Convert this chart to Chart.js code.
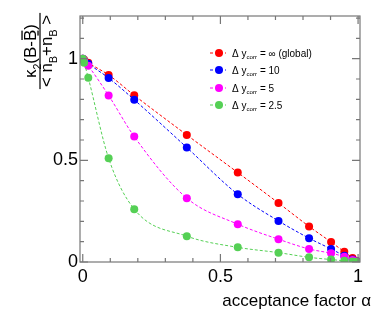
<!DOCTYPE html>
<html>
<head>
<meta charset="utf-8">
<script src="https://cdn.jsdelivr.net/npm/chart.js@4/dist/chart.umd.min.js"></script>
<style>
  body { margin: 0; background: #fff; }
  canvas { display: block; }
</style>
</head>
<body>
<canvas id="chart" width="374" height="317"></canvas>
<script>
// acceptance factor values (same for every curve)
const alpha = [0, 0.005, 0.02, 0.094, 0.187, 0.378, 0.563, 0.711, 0.822, 0.902, 0.95, 0.98, 0.995];

// normalised second cumulant for each rapidity correlation length
const globalVals = [1.0, 0.995, 0.98, 0.92, 0.82, 0.625, 0.44, 0.29, 0.175, 0.098, 0.05, 0.02, 0.005];
const corr10 = [1.0, 0.99, 0.975, 0.905, 0.798, 0.563, 0.333, 0.202, 0.117, 0.064, 0.031, 0.012, 0.003];
const corr5 = [1.0, 0.99, 0.965, 0.819, 0.617, 0.314, 0.186, 0.112, 0.064, 0.043, 0.026, 0.01, 0.003];
const corr25 = [1.0, 0.98, 0.906, 0.51, 0.26, 0.127, 0.072, 0.046, 0.023, 0.012, 0.006, 0.003, 0.001];

const legendValues = ['\u221e (global)', '10', '5', '2.5'];
const colors = ['#ff0000', '#0000ff', '#ff00ff', '#55d055'];

const xTicks = [0, 0.1, 0.2, 0.3, 0.4, 0.5, 0.6, 0.7, 0.8, 0.9, 1];
const yTicks = [0, 0.1, 0.2, 0.3, 0.4, 0.5, 0.6, 0.7, 0.8, 0.9, 1, 1.1, 1.2];
const majorTicks = [0, 0.5, 1];

const FONT = '"Liberation Sans", Arial, sans-serif';
const FRAME = '#777';

const series = [globalVals, corr10, corr5, corr25];

const makeDataset = (vals, i) => ({
    label: legendValues[i],
    data: alpha.map((a, k) => ({ x: a, y: vals[k] })),
    borderColor: colors[i],
    backgroundColor: colors[i],
    borderWidth: 1,
    borderDash: [3, 2],
    tension: 0.4,
    cubicInterpolationMode: 'monotone',
    pointRadius: 4,
    pointBorderWidth: 0,
    pointBackgroundColor: colors[i],
    order: 4 - i
});

const isMajor = v => majorTicks.some(m => Math.abs(m - v) < 1e-6);

// inward ticks on all four sides + frame
const framePlugin = {
    id: 'frame',
    afterDraw(chart) {
        const ctx = chart.ctx;
        const a = chart.chartArea;
        const xs = chart.scales.x, ys = chart.scales.y;
        ctx.save();
        ctx.strokeStyle = FRAME;
        ctx.lineWidth = 1.2;
        ctx.strokeRect(a.left, a.top, a.right - a.left, a.bottom - a.top);
        ctx.beginPath();
        xs.ticks.forEach(t => {
            const px = xs.getPixelForValue(t.value);
            const len = isMajor(t.value) ? 8 : 4;
            ctx.moveTo(px, a.bottom); ctx.lineTo(px, a.bottom - len);
            ctx.moveTo(px, a.top); ctx.lineTo(px, a.top + len);
        });
        ys.ticks.forEach(t => {
            const py = ys.getPixelForValue(t.value);
            const len = isMajor(t.value) ? 8 : 4;
            ctx.moveTo(a.left, py); ctx.lineTo(a.left + len, py);
            ctx.moveTo(a.right, py); ctx.lineTo(a.right - len, py);
        });
        ctx.stroke();
        ctx.restore();
    }
};

// draws a run of text pieces; pieces can be subscripts or overlined
const drawPieces = (ctx, pieces, x, y, size) => {
    let cx = x;
    pieces.forEach(p => {
        const s = p.sub ? size * 0.62 : size;
        ctx.font = s + 'px ' + FONT;
        const dy = p.sub ? size * 0.28 : 0;
        ctx.fillText(p.t, cx, y + dy);
        const w = ctx.measureText(p.t).width;
        if (p.over) {
            ctx.fillRect(cx + 1, y - size * 0.86, w - 2, 1.3);
        }
        cx += w;
    });
    return cx - x;
};

const measurePieces = (ctx, pieces, size) => {
    let w = 0;
    pieces.forEach(p => {
        ctx.font = (p.sub ? size * 0.62 : size) + 'px ' + FONT;
        w += ctx.measureText(p.t).width;
    });
    return w;
};

const labelsPlugin = {
    id: 'labels',
    afterDraw(chart) {
        const ctx = chart.ctx;
        ctx.save();
        ctx.fillStyle = '#000';
        ctx.textBaseline = 'alphabetic';

        // x axis title
        ctx.font = '17px ' + FONT;
        ctx.textAlign = 'right';
        ctx.fillText('acceptance factor \u03b1', 371, 306);
        ctx.textAlign = 'left';

        // y axis title as fraction, rotated
        const size = 17;
        const num = [{ t: '\u03ba' }, { t: '2', sub: true }, { t: '(B-' }, { t: 'B', over: true }, { t: ')' }];
        const den = [{ t: '< n' }, { t: 'B', sub: true }, { t: '+n' }, { t: 'B', sub: true, over: true }, { t: ' >' }];
        ctx.translate(40, 51);
        ctx.rotate(-Math.PI / 2);
        const wn = measurePieces(ctx, num, size);
        const wd = measurePieces(ctx, den, size);
        drawPieces(ctx, num, -wn / 2, -4, size);
        drawPieces(ctx, den, -wd / 2, 12, size);
        const bar = Math.max(wn, wd) + 4;
        ctx.fillRect(-bar / 2, -0.6, bar, 1.2);
        ctx.setTransform(1, 0, 0, 1, 0, 0);

        // legend
        const rows = [53, 70, 88, 105];
        rows.forEach((ry, i) => {
            ctx.strokeStyle = colors[i];
            ctx.fillStyle = colors[i];
            ctx.lineWidth = 1;
            ctx.setLineDash([3, 2]);
            ctx.beginPath();
            ctx.moveTo(210, ry); ctx.lineTo(226, ry);
            ctx.stroke();
            ctx.setLineDash([]);
            ctx.beginPath();
            ctx.arc(219, ry, 4, 0, Math.PI * 2);
            ctx.fill();
            ctx.fillStyle = '#000';
            drawPieces(ctx, [{ t: '\u0394 y' }, { t: 'corr', sub: true }, { t: ' = ' + legendValues[i] }], 232, ry + 3.5, 10);
        });
        ctx.restore();
    }
};

const ctx = document.getElementById('chart').getContext('2d');
new Chart(ctx, {
    type: 'line',
    data: { datasets: series.map(makeDataset) },
    options: {
        responsive: false,
        devicePixelRatio: 1,
        animation: false,
        layout: { padding: { top: 16, right: 14, left: 0, bottom: 0 } },
        plugins: { legend: { display: false }, tooltip: { enabled: false } },
        scales: {
            x: {
                type: 'linear',
                min: -0.01,
                max: 1.007,
                afterBuildTicks: s => { s.ticks = xTicks.map(v => ({ value: v })); },
                afterFit: s => { s.height = 55; },
                grid: { display: false, drawTicks: false },
                border: { display: false },
                ticks: {
                    autoSkip: false,
                    maxRotation: 0,
                    padding: 4,
                    color: '#000',
                    font: { family: FONT, size: 18 },
                    callback: v => isMajor(v) ? String(v) : ''
                }
            },
            y: {
                type: 'linear',
                min: 0,
                max: 1.21,
                afterBuildTicks: s => { s.ticks = yTicks.map(v => ({ value: v })); },
                afterFit: s => { s.width = 80; },
                grid: { display: false, drawTicks: false },
                border: { display: false },
                ticks: {
                    autoSkip: false,
                    padding: 2,
                    color: '#000',
                    font: { family: FONT, size: 18 },
                    callback: v => isMajor(v) ? String(v) : ''
                }
            }
        }
    },
    plugins: [framePlugin, labelsPlugin]
});
</script>
</body>
</html>
